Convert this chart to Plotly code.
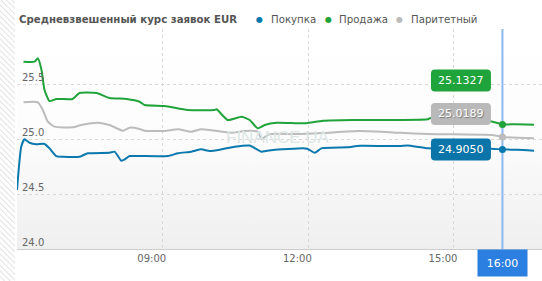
import base64
import plotly.graph_objects as go

# ---------------- data (hours of day -> rate) ----------------
buy_t = [6.0, 6.087, 6.155, 6.258, 6.396, 6.567, 6.67, 6.808, 6.945, 7.289, 7.46, 7.907, 8.01,
         8.148, 8.22, 8.32, 8.526, 9.11, 9.316, 9.592, 9.798, 9.969, 10.21, 10.485, 10.794, 10.87,
         11.035, 11.12, 11.274, 11.893, 11.98, 12.134, 12.272, 12.788, 13.062, 13.887, 14.05,
         14.47, 15.777, 16.0, 16.31, 16.65]
buy_v = [24.536, 24.93, 24.997, 24.966, 24.952, 24.955, 24.915, 24.845, 24.839, 24.839, 24.87,
         24.875, 24.885, 24.803, 24.815, 24.845, 24.845, 24.845, 24.87, 24.885, 24.906, 24.891,
         24.906, 24.93, 24.94, 24.925, 24.885, 24.89, 24.9, 24.915, 24.912, 24.875, 24.915,
         24.924, 24.939, 24.936, 24.94, 24.915, 24.912, 24.905, 24.902, 24.894]

sell_t = [6.134, 6.361, 6.43, 6.505, 6.567, 6.67, 6.814, 7.144, 7.289, 7.64, 7.907, 8.258,
          8.526, 8.629, 9.041, 9.515, 10.072, 10.113, 10.34, 10.629, 10.794, 10.959, 11.103,
          11.344, 11.757, 11.963, 12.305, 12.924, 13.887, 14.464, 14.5, 15.777, 16.0, 16.258, 16.65]
sell_v = [25.703, 25.703, 25.734, 25.627, 25.445, 25.345, 25.364, 25.364, 25.418, 25.418,
          25.373, 25.364, 25.339, 25.309, 25.30, 25.264, 25.264, 25.27, 25.173, 25.203, 25.173,
          25.097, 25.127, 25.148, 25.143, 25.143, 25.166, 25.173, 25.173, 25.179, 25.188,
          25.159, 25.1327, 25.134, 25.13]

par_t = [6.134, 6.429, 6.532, 6.635, 6.773, 7.151, 7.324, 7.666, 7.907, 8.181, 8.32, 8.526,
         8.629, 9.041, 9.316, 9.592, 9.798, 10.416, 10.69, 10.965, 11.035, 11.206, 11.757,
         12.3, 13.062, 13.887, 14.464, 15.777, 16.0, 16.65]
par_v = [25.334, 25.334, 25.264, 25.157, 25.112, 25.106, 25.127, 25.148, 25.127, 25.075,
         25.103, 25.091, 25.075, 25.073, 25.088, 25.066, 25.088, 25.057, 25.073, 25.066,
         25.0, 25.045, 25.045, 25.055, 25.073, 25.057, 25.045, 25.036, 25.0189, 25.006]

series_names = ["Покупка", "Продажа", "Паритетный"]
x_tick_vals = [6, 9, 12, 15]
x_tick_text = ["06:00", "09:00", "12:00", "15:00"]
y_tick_vals = [24.0, 24.5, 25.0, 25.5, 26.0]
y_tick_text = ["24.0", "24.5", "25.0", "25.5", ""]
cursor_time = 16.0
cursor_label = "16:00"
title_text = "Средневзвешенный курс заявок EUR"

# ---------------- styling ----------------
W, H = 542, 281
ML, MR, MT, MB = 17, 0, 29, 32
PW, PH = W - ML - MR, H - MT - MB
BLUE, GREEN, GRAY = "#0b78ae", "#20a33a", "#bcbcbc"
BOX = {"Покупка": "#0b74a8", "Продажа": "#1fa33b", "Паритетный": "#b9b9b9"}
FONT = "DejaVu Sans"

fig = go.Figure()
data = [(buy_t, buy_v, BLUE, series_names[0]),
        (sell_t, sell_v, GREEN, series_names[1]),
        (par_t, par_v, GRAY, series_names[2])]

for t, v, c, n in data:
    fig.add_trace(go.Scatter(x=t, y=v, mode="lines", name=n, showlegend=False,
                             line=dict(color=c, width=2, shape="spline", smoothing=0.5),
                             hoverinfo="skip"))

cur_vals = [v[t.index(cursor_time)] for t, v, c, n in data]
fig.add_trace(go.Scatter(x=[cursor_time] * 3, y=cur_vals, mode="markers", showlegend=False,
                         marker=dict(color=[BLUE, GREEN, GRAY], size=7), hoverinfo="skip"))

shapes = []
annotations = []

# crosshair
shapes.append(dict(type="line", xref="x", yref="paper", x0=cursor_time, x1=cursor_time,
                   y0=0, y1=1, line=dict(color="#8db7f0", width=2), layer="between"))

# value boxes (rounded) near cursor
offsets = {"Покупка": 0, "Продажа": 44, "Паритетный": 23}
bw, bh, r = 60, 22, 4
for (t, v, c, n), val in zip(data, cur_vals):
    dx, dy = -41.5, offsets[n]
    x0, x1 = dx - bw / 2, dx + bw / 2
    y0, y1 = dy - bh / 2, dy + bh / 2
    path = (f"M {x0+r},{y0} L {x1-r},{y0} Q {x1},{y0} {x1},{y0+r} L {x1},{y1-r} "
            f"Q {x1},{y1} {x1-r},{y1} L {x0+r},{y1} Q {x0},{y1} {x0},{y1-r} "
            f"L {x0},{y0+r} Q {x0},{y0} {x0+r},{y0} Z")
    shapes.append(dict(type="path", xref="x", yref="y", xsizemode="pixel", ysizemode="pixel",
                       xanchor=cursor_time, yanchor=val, path=path,
                       fillcolor=BOX[n], line=dict(width=0), layer="above"))
    annotations.append(dict(x=cursor_time, y=val, xref="x", yref="y", text=f"{val:.4f}",
                            showarrow=False, xshift=dx, yshift=dy,
                            font=dict(family=FONT, size=11, color="white",
                                      shadow="1px 1px 1px rgba(0,0,0,0.35)" if n == "Паритетный" else "none")))

# cursor time label
annotations.append(dict(x=cursor_time, y=0, xref="x", yref="paper", yanchor="top",
                        text=cursor_label, showarrow=False, width=49, height=26,
                        bgcolor="#2b7fe0", borderpad=0, yshift=0,
                        font=dict(family=FONT, size=11, color="white")))

# title
ytop = (PH + (MT - 19)) / PH
annotations.append(dict(x=0, y=ytop, xref="paper", yref="paper",
                        xanchor="left", yanchor="middle", text=f"<b>{title_text}</b>",
                        showarrow=False, font=dict(family=FONT, size=10.2, color="#555555")))

# custom legend
for (dot_x, txt_x, col, name) in [(259, 269, BLUE, series_names[0]),
                                  (328, 337, GREEN, series_names[1]),
                                  (399, 409, GRAY, series_names[2])]:
    annotations.append(dict(x=(dot_x - ML) / PW, y=ytop, xref="paper", yref="paper",
                            xanchor="center", yanchor="middle", text="●", showarrow=False,
                            font=dict(family=FONT, size=8, color=col)))
    annotations.append(dict(x=(txt_x - ML) / PW, y=ytop, xref="paper", yref="paper",
                            xanchor="left", yanchor="middle", text=name, showarrow=False,
                            font=dict(family=FONT, size=10.2, color="#555555")))

# watermark
annotations.append(dict(x=(278 - ML) / PW, y=(H - MB - 137) / PH, xref="paper", yref="paper",
                        text="FINANCE.UA", showarrow=False,
                        font=dict(family="Liberation Sans", size=17, color="#dde7e5")))

# background gradient + left hatch
grad_svg = (f"<svg xmlns='http://www.w3.org/2000/svg' width='{PW}' height='{PH}'>"
            "<defs><linearGradient id='g' x1='0' y1='0' x2='0' y2='1'>"
            "<stop offset='0' stop-color='#ffffff'/><stop offset='0.5' stop-color='#fcfcfc'/>"
            "<stop offset='1' stop-color='#efefef'/></linearGradient></defs>"
            f"<rect width='{PW}' height='{PH}' fill='url(#g)'/></svg>")
hatch_svg = ("<svg xmlns='http://www.w3.org/2000/svg' width='15' height='281'>"
             "<defs><pattern id='p' width='4' height='4' patternUnits='userSpaceOnUse' "
             "patternTransform='rotate(-45)'><rect width='4' height='4' fill='#ffffff'/>"
             "<line x1='0' y1='0' x2='0' y2='4' stroke='#d6d6d6' stroke-width='1.4'/></pattern></defs>"
             "<rect width='15' height='281' fill='url(#p)'/></svg>")


def uri(s):
    return "data:image/svg+xml;base64," + base64.b64encode(s.encode()).decode()


images = [
    dict(source=uri(grad_svg), xref="paper", yref="paper", x=0, y=1, sizex=1, sizey=1,
         xanchor="left", yanchor="top", sizing="stretch", layer="below"),
    dict(source=uri(hatch_svg), xref="paper", yref="paper", x=-ML / PW, y=(PH + MT) / PH,
         sizex=15 / PW, sizey=H / PH, xanchor="left", yanchor="top", sizing="stretch", layer="above"),
]

fig.update_layout(
    width=W, height=H, margin=dict(l=ML, r=MR, t=MT, b=MB, autoexpand=False),
    paper_bgcolor="white", plot_bgcolor="rgba(0,0,0,0)",
    showlegend=False, shapes=shapes, annotations=annotations, images=images,
    font=dict(family=FONT, color="#666666", size=10),
    xaxis=dict(range=[6, 16.815], tickvals=x_tick_vals, ticktext=x_tick_text,
               ticklabelposition="outside left", ticklabelshift=4, showgrid=True,
               gridcolor="#d9d9d9", griddash="3px,3px", gridwidth=1, zeroline=False,
               showline=True, linecolor="#cccccc", linewidth=1, ticks="", automargin=False,
               tickfont=dict(family=FONT, size=10, color="#666666")),
    yaxis=dict(range=[24, 26], tickvals=y_tick_vals, ticktext=y_tick_text,
               ticklabelposition="inside top", ticklabelstandoff=2, showgrid=True,
               gridcolor="#d9d9d9", griddash="3px,3px", gridwidth=1, zeroline=False,
               showline=False, ticks="", automargin=False,
               tickfont=dict(family=FONT, size=10, color="#666666")),
)

fig.write_html("out.html")
